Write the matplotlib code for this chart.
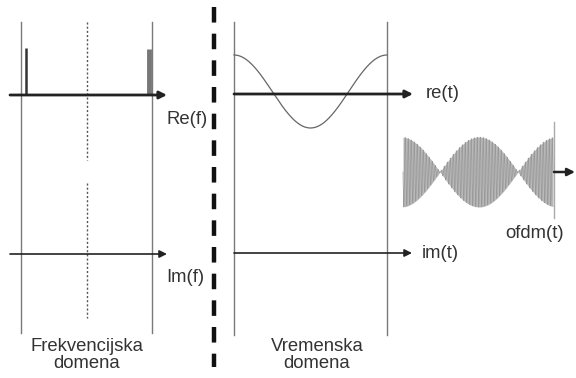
"""OFDM diagram: frequency domain (Re/Im spectra) vs time domain (re/im/ofdm)."""
import numpy as np
import matplotlib

matplotlib.use("Agg")
import matplotlib.pyplot as plt

plt.rcParams["font.family"] = ["Liberation Sans", "DejaVu Sans"]

# --- content (pixel units, y grows downward) ---
AXIS_LABELS = ["Re(f)", "Im(f)", "re(t)", "im(t)", "ofdm(t)"]
DOMAIN_LABELS = ["Frekvencijska\ndomena", "Vremenska\ndomena"]

# spectral lines on Re(f): x position and top height
spike_x = [26, 149]
spike_top = [48, 49]
spike_width = [1.8, 3.5]
spike_color = ["#333333", "#777777"]

# cosine in re(t): one full period between the two panel borders
cos_amp = 36.5        # px
cos_mid = 91.5        # px
# ofdm burst: envelope |cos| with these zeros, carrier period
env_zeros = [440, 518]
env_amp = 35
env_mid = 172
carrier_period = 3.0

TEXT = "#333333"
LINE = "#222222"
FRAME = "#7a7a7a"
FS = 13.3

fig = plt.figure(figsize=(5.76, 3.78), dpi=100)
ax = fig.add_axes([0, 0, 1, 1])
ax.set_xlim(0, 576)
ax.set_ylim(378, 0)
ax.axis("off")


def arrow(x0, x1, y, lw):
    ax.annotate("", xy=(x1, y), xytext=(x0, y),
                arrowprops=dict(arrowstyle="-|>", color=LINE, lw=lw,
                                mutation_scale=11, shrinkA=0, shrinkB=0),
                annotation_clip=False)


# panel borders
for x in (21, 152):
    ax.plot([x, x], [22, 333], color=FRAME, lw=1.0)
for x in (234, 387):
    ax.plot([x, x], [22, 335], color=FRAME, lw=1.0)

# dotted centre line of the spectrum (broken between the two axes)
ax.plot([87, 87], [22, 160], color="#555555", lw=1.0, ls=(0, (1.5, 1.5)))
ax.plot([87, 87], [183, 318], color="#555555", lw=1.0, ls=(0, (1.5, 1.5)))

# axes
arrow(10, 167, 95, 2.0)
arrow(10, 167, 254, 1.2)
arrow(234, 413, 94, 2.0)
arrow(234, 412, 253, 1.2)

# spectral lines
for x, top, w, c in zip(spike_x, spike_top, spike_width, spike_color):
    ax.plot([x, x], [top, 95], color=c, lw=w, solid_capstyle="butt")

# cosine in time domain
t = np.linspace(234, 387, 300)
ax.plot(t, cos_mid - cos_amp * np.cos(2 * np.pi * (t - 234) / (387 - 234)),
        color="#666666", lw=0.9)

# ofdm burst
xs = np.linspace(403, 553, 3000)
half = env_zeros[1] - env_zeros[0]
centre = 0.5 * (env_zeros[0] + env_zeros[1])
env = env_amp * np.abs(np.cos(np.pi * (xs - centre) / half))
carrier = np.sin(2 * np.pi * (xs - 403) / carrier_period)
ax.fill_between(xs, env_mid - env, env_mid + env, color="#b8b8b8", lw=0)
ax.plot(xs, env_mid + env * carrier, color="#999999", lw=0.5)
ax.plot([554, 554], [122, 218], color="#aaaaaa", lw=1.0)
arrow(554, 575, 172, 1.8)

# thick dashed divider
ax.plot([214, 214], [7, 367], color="#111111", lw=3.2, ls=(0, (3.5, 2.5)),
        solid_capstyle="butt")

# labels
ax.text(187, 120, AXIS_LABELS[0], color=TEXT, fontsize=FS, ha="center", va="center")
ax.text(185, 277, AXIS_LABELS[1], color=TEXT, fontsize=FS, ha="center", va="center")
ax.text(426, 94, AXIS_LABELS[2], color=TEXT, fontsize=FS, ha="left", va="center")
ax.text(422, 254, AXIS_LABELS[3], color=TEXT, fontsize=FS, ha="left", va="center")
ax.text(535, 233, AXIS_LABELS[4], color=TEXT, fontsize=FS, ha="center", va="center")
ax.text(87, 355, DOMAIN_LABELS[0], color=TEXT, fontsize=FS, ha="center", va="center",
        linespacing=1.05)
ax.text(317, 355, DOMAIN_LABELS[1], color=TEXT, fontsize=FS, ha="center", va="center",
        linespacing=1.05)

fig.savefig("out.png", dpi=100)
